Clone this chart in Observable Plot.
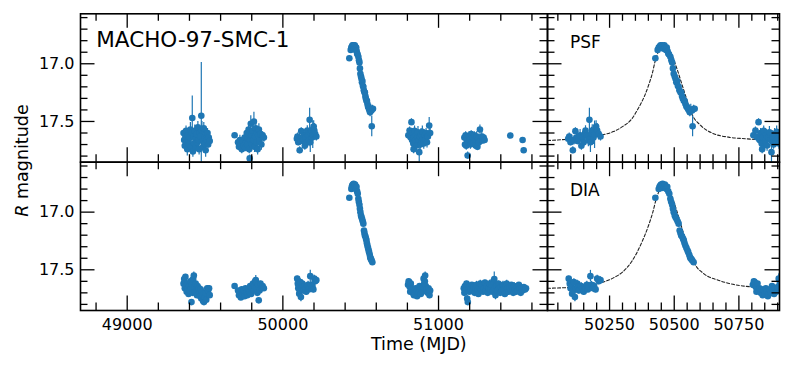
<!DOCTYPE html>
<html><head><meta charset="utf-8">
<script src="https://cdn.jsdelivr.net/npm/d3@7"></script>
<script src="https://cdn.jsdelivr.net/npm/@observablehq/plot@0.6"></script>
<style>
body{margin:0;background:#fff}
#chart{position:relative;width:793px;height:366px;overflow:hidden;background:#fff}
#chart svg{position:absolute;left:0;top:0}
</style></head><body><div id="chart"></div>
<script>
// ---------- data: [MJD, R magnitude, error] ----------
const psfObs = [
[49362,17.60,0.03],[49366,17.66,0.04],[49370,17.71,0.03],[49374,17.63,0.05],[49378,17.58,0.04],[49382,17.68,0.03],[49386,17.74,0.06],[49390,17.62,0.04],[49394,17.66,0.03],[49398,17.70,0.05],[49402,17.64,0.04],[49406,17.57,0.06],[49410,17.72,0.05],[49414,17.60,0.03],[49418,17.47,0.19],[49422,17.76,0.05],[49426,17.63,0.04],[49430,17.69,0.03],[49434,17.58,0.05],[49438,17.65,0.04],[49442,17.72,0.04],[49446,17.61,0.03],[49450,17.68,0.05],[49454,17.55,0.05],[49458,17.66,0.04],[49462,17.74,0.05],[49466,17.60,0.06],[49470,17.63,0.04],[49476,17.45,0.46],[49480,17.58,0.08],[49484,17.67,0.05],[49488,17.72,0.04],[49492,17.56,0.05],[49496,17.64,0.03],[49500,17.69,0.07],[49504,17.75,0.06],[49508,17.61,0.04],[49512,17.66,0.05],[49516,17.60,0.04],[49520,17.70,0.03],[49524,17.64,0.05],[49530,17.67,0.04],
[49690,17.62,0.02],[49712,17.68,0.03],[49718,17.72,0.03],[49724,17.66,0.04],[49730,17.70,0.03],[49736,17.74,0.04],[49742,17.67,0.03],[49748,17.71,0.05],[49754,17.64,0.04],[49758,17.73,0.03],[49764,17.68,0.05],[49768,17.60,0.04],[49772,17.70,0.04],[49776,17.65,0.06],[49780,17.57,0.05],[49784,17.74,0.04],[49787,17.82,0.03],[49790,17.66,0.05],[49794,17.52,0.07],[49798,17.62,0.05],[49802,17.70,0.04],[49806,17.58,0.06],[49810,17.66,0.05],[49814,17.50,0.08],[49818,17.72,0.05],[49822,17.63,0.04],[49826,17.56,0.06],[49830,17.68,0.05],[49834,17.60,0.04],[49838,17.74,0.05],[49842,17.62,0.04],[49846,17.57,0.05],[49850,17.67,0.06],[49856,17.61,0.04],[49862,17.70,0.05],[49870,17.62,0.03],[49878,17.64,0.04],
[50090,17.65,0.03],[50094,17.63,0.03],[50099,17.68,0.03],[50104,17.66,0.04],[50108,17.75,0.03],[50112,17.665,0.04],[50118,17.584,0.03],[50122,17.64,0.04],[50126,17.67,0.03],[50131,17.65,0.04],[50136,17.62,0.05],[50141,17.71,0.04],[50146,17.636,0.05],[50150,17.68,0.04],[50154,17.61,0.05],[50157,17.578,0.04],[50163,17.62,0.05],[50168,17.66,0.06],[50172,17.486,0.10],[50176,17.68,0.09],[50180,17.60,0.05],[50183,17.578,0.05],[50188,17.64,0.06],[50192,17.615,0.12],[50198,17.543,0.05],[50202,17.578,0.06],[50208,17.61,0.05],[50215,17.63,0.04],
[50427,16.952,0.02],[50436,16.88,0.02],[50440,16.86,0.02],[50444,16.85,0.02],[50447,16.84,0.02],[50450,16.86,0.02],[50453,16.84,0.02],[50456,16.85,0.02],[50459,16.87,0.02],[50462,16.84,0.02],[50465,16.86,0.02],[50468,16.88,0.02],[50471,16.86,0.02],[50474,16.89,0.02],[50477,16.91,0.02],[50480,16.92,0.02],[50485,16.94,0.02],[50489,16.97,0.02],[50492,16.99,0.02],[50495,17.04,0.02],[50498,17.087,0.02],[50502,17.11,0.02],[50505,17.13,0.02],[50508,17.16,0.02],[50511,17.15,0.02],[50514,17.19,0.02],[50517,17.20,0.02],[50520,17.23,0.02],[50524,17.246,0.02],[50527,17.25,0.02],[50530,17.28,0.02],[50533,17.30,0.02],[50537,17.32,0.02],[50540,17.32,0.02],[50543,17.347,0.02],[50547,17.37,0.03],[50550,17.376,0.03],[50553,17.39,0.03],[50556,17.40,0.04],[50560,17.42,0.04],[50564,17.40,0.05],[50569,17.405,0.03],[50571,17.542,0.09],[50575,17.39,0.03],[50579,17.39,0.02],
[50806,17.62,0.03],[50814,17.578,0.03],[50820,17.636,0.04],[50826,17.506,0.03],[50830,17.66,0.03],[50834,17.60,0.04],[50838,17.69,0.03],[50840,17.74,0.04],[50842,17.64,0.04],[50846,17.58,0.04],[50852,17.665,0.04],[50856,17.62,0.05],[50859,17.708,0.05],[50864,17.64,0.04],[50868,17.593,0.05],[50872,17.66,0.04],[50876,17.766,0.10],[50880,17.63,0.05],[50884,17.70,0.04],[50888,17.61,0.05],[50892,17.67,0.04],[50896,17.59,0.05],[50900,17.65,0.04],[50905,17.69,0.05],[50910,17.62,0.04],[50915,17.66,0.05],[50920,17.60,0.04],[50926,17.68,0.05],[50932,17.63,0.04],[50940,17.535,0.07],[50946,17.60,0.04],
[51166,17.64,0.03],[51170,17.70,0.03],[51174,17.62,0.03],[51178,17.71,0.04],[51182,17.66,0.03],[51187,17.795,0.03],[51192,17.68,0.03],[51196,17.63,0.04],[51200,17.66,0.03],[51205,17.70,0.04],[51210,17.61,0.03],[51215,17.67,0.04],[51220,17.64,0.03],[51225,17.69,0.04],[51230,17.62,0.03],[51235,17.66,0.04],[51240,17.71,0.03],[51245,17.63,0.04],[51250,17.72,0.03],[51255,17.65,0.04],[51260,17.68,0.03],[51266,17.57,0.04],[51272,17.66,0.03],[51278,17.63,0.04],[51284,17.665,0.03],[51290,17.64,0.03],[51296,17.66,0.03],
[51461,17.622,0.02],[51540,17.66,0.02],[51547,17.75,0.02]
];

const diaObs = [
[49362,17.62,0.02],[49366,17.58,0.02],[49370,17.66,0.03],[49374,17.56,0.02],[49378,17.64,0.02],[49382,17.69,0.03],[49386,17.62,0.02],[49390,17.66,0.02],[49394,17.71,0.03],[49398,17.64,0.02],[49402,17.68,0.02],[49406,17.60,0.03],[49410,17.66,0.02],[49413,17.78,0.02],[49416,17.63,0.03],[49420,17.70,0.02],[49424,17.58,0.03],[49428,17.55,0.03],[49432,17.65,0.02],[49436,17.69,0.03],[49440,17.62,0.02],[49444,17.67,0.02],[49448,17.72,0.03],[49452,17.64,0.02],[49456,17.68,0.03],[49460,17.66,0.02],[49464,17.70,0.03],[49468,17.73,0.02],[49472,17.67,0.03],[49476,17.75,0.02],[49480,17.69,0.03],[49484,17.72,0.02],[49488,17.77,0.03],[49493,17.78,0.02],[49498,17.74,0.03],[49503,17.70,0.02],[49508,17.76,0.03],[49514,17.66,0.02],[49520,17.68,0.03],[49526,17.66,0.02],[49530,17.72,0.03],
[49690,17.64,0.02],[49712,17.68,0.02],[49718,17.72,0.02],[49724,17.69,0.02],[49730,17.74,0.02],[49736,17.67,0.02],[49742,17.71,0.02],[49748,17.68,0.02],[49754,17.73,0.02],[49760,17.66,0.02],[49766,17.70,0.02],[49772,17.72,0.02],[49778,17.67,0.02],[49784,17.69,0.03],[49790,17.64,0.02],[49796,17.71,0.02],[49802,17.66,0.03],[49808,17.62,0.02],[49812,17.68,0.03],[49818,17.64,0.02],[49822,17.60,0.03],[49826,17.59,0.04],[49830,17.66,0.02],[49836,17.70,0.03],[49840,17.63,0.02],[49845,17.765,0.02],[49850,17.68,0.03],[49856,17.62,0.02],[49862,17.66,0.03],[49870,17.64,0.02],[49878,17.66,0.02],
[50092,17.577,0.02],[50096,17.62,0.03],[50099,17.66,0.03],[50102,17.64,0.02],[50105,17.707,0.03],[50109,17.68,0.03],[50112,17.607,0.03],[50116,17.737,0.04],[50120,17.66,0.03],[50125,17.62,0.03],[50128,17.65,0.03],[50131,17.679,0.03],[50136,17.67,0.03],[50140,17.64,0.03],[50145,17.66,0.03],[50150,17.69,0.03],[50154,17.65,0.03],[50157,17.664,0.03],[50162,17.63,0.03],[50166,17.67,0.03],[50170,17.65,0.03],[50176,17.555,0.05],[50180,17.63,0.03],[50186,17.66,0.03],[50190,17.64,0.03],[50196,17.67,0.03],[50202,17.577,0.03],[50208,17.60,0.03],[50215,17.59,0.03],
[50427,16.875,0.01],[50440,16.80,0.01],[50443,16.78,0.01],[50446,16.77,0.01],[50449,16.76,0.01],[50452,16.79,0.01],[50455,16.755,0.01],[50458,16.77,0.01],[50461,16.78,0.01],[50464,16.76,0.01],[50467,16.79,0.01],[50470,16.80,0.01],[50473,16.78,0.01],[50477,16.82,0.01],[50481,16.84,0.01],[50485,16.884,0.01],[50488,16.91,0.01],[50492,16.936,0.01],[50495,16.97,0.01],[50498,17.00,0.01],[50502,17.03,0.01],[50505,17.044,0.01],[50509,17.06,0.01],[50513,17.08,0.01],[50517,17.10,0.01],[50521,17.159,0.01],[50524,17.18,0.01],[50527,17.202,0.01],[50530,17.21,0.01],[50534,17.23,0.01],[50537,17.245,0.01],[50540,17.27,0.01],[50543,17.289,0.01],[50547,17.31,0.01],[50551,17.33,0.01],[50554,17.347,0.01],[50558,17.37,0.01],[50561,17.39,0.01],[50563,17.399,0.01],[50567,17.41,0.01],[50570,17.42,0.01],[50575,17.434,0.01],
[50804,17.63,0.02],[50808,17.60,0.02],[50811,17.607,0.02],[50815,17.65,0.02],[50818,17.69,0.02],[50822,17.62,0.02],[50826,17.679,0.02],[50830,17.66,0.02],[50834,17.70,0.02],[50838,17.67,0.02],[50842,17.72,0.02],[50846,17.68,0.02],[50850,17.71,0.02],[50854,17.66,0.02],[50858,17.69,0.02],[50862,17.73,0.02],[50865,17.707,0.02],[50870,17.67,0.02],[50874,17.70,0.02],[50878,17.64,0.02],[50882,17.68,0.03],[50886,17.71,0.02],[50890,17.66,0.02],[50895,17.69,0.02],[50900,17.65,0.02],[50904,17.577,0.02],[50908,17.62,0.03],[50912,17.60,0.02],[50914,17.549,0.03],[50918,17.64,0.02],[50924,17.67,0.03],[50930,17.70,0.04],[50936,17.66,0.02],[50942,17.72,0.03],[50946,17.68,0.02],
[51162,17.66,0.02],[51166,17.70,0.02],[51170,17.64,0.02],[51176,17.68,0.02],[51180,17.62,0.02],[51184,17.75,0.03],[51188,17.78,0.03],[51192,17.66,0.02],[51197,17.69,0.02],[51202,17.64,0.02],[51208,17.67,0.02],[51214,17.63,0.02],[51220,17.68,0.02],[51226,17.65,0.02],[51232,17.70,0.02],[51238,17.66,0.02],[51244,17.63,0.03],[51250,17.68,0.02],[51256,17.71,0.02],[51262,17.65,0.02],[51268,17.62,0.03],[51274,17.67,0.02],[51280,17.64,0.02],[51286,17.69,0.02],[51292,17.66,0.03],[51298,17.61,0.02],[51304,17.68,0.02],[51310,17.64,0.03],[51316,17.70,0.02],[51322,17.66,0.02],[51328,17.62,0.03],[51334,17.67,0.02],[51340,17.63,0.03],[51346,17.69,0.02],[51352,17.60,0.03],[51358,17.58,0.06],[51362,17.66,0.03],[51366,17.72,0.04],[51372,17.64,0.02],[51378,17.68,0.03],[51384,17.62,0.02],[51390,17.66,0.03],[51396,17.70,0.02],[51402,17.65,0.03],[51408,17.68,0.02],[51414,17.63,0.03],[51420,17.67,0.02],[51426,17.71,0.03],[51432,17.64,0.02],[51438,17.62,0.03],[51444,17.66,0.02],[51450,17.69,0.03],[51456,17.65,0.02],[51462,17.68,0.03],[51468,17.63,0.02],[51474,17.66,0.03],[51480,17.70,0.02],[51486,17.64,0.03],[51492,17.67,0.02],[51498,17.69,0.03],[51504,17.65,0.02],[51510,17.68,0.03],[51516,17.63,0.02],[51522,17.66,0.03],[51528,17.70,0.02],[51534,17.66,0.03],[51540,17.68,0.02],[51548,17.65,0.02],[51556,17.67,0.02],[51562,17.66,0.02]
];

// model curves
const modelPsfTime = [50010,50100,50200,50265,50300,50335,50365,50385,50401,50415,50427,50440,50455,50470,50490,50510,50530,50550,50569,50600,50646,50710,50775,50907];
const modelPsfMag  = [17.665,17.652,17.625,17.588,17.545,17.480,17.37,17.28,17.185,17.085,16.97,16.89,16.845,16.85,16.92,17.04,17.18,17.32,17.44,17.53,17.60,17.636,17.650,17.662];
const modelDiaTime = [50010,50100,50200,50265,50300,50335,50375,50400,50416,50430,50445,50458,50472,50490,50510,50530,50550,50578,50615,50670,50740,50800,50907];
const modelDiaMag  = [17.660,17.652,17.622,17.570,17.52,17.43,17.26,17.12,17.01,16.89,16.80,16.765,16.78,16.86,16.99,17.14,17.29,17.445,17.535,17.59,17.632,17.648,17.658];

// axes
const fullDomain = [48700, 51700];
const zoomDomain = [50010, 50907];
const magDomain = [16.567, 17.853];
const fullMajor = [49000, 50000, 51000];
const zoomMajor = [50250, 50500, 50750];
const magMajor = [17.0, 17.5];
const titleText = "MACHO-97-SMC-1";
const panelLabels = ["PSF", "DIA"];
const xLabelText = "Time (MJD)";
const yLabelText = "R magnitude";

// ---------- drawing ----------
const blue = "#1f77b4";
const W = 793, H = 366;
const L = 80, MID = 547, R = 779, T = 13.3, SPLIT = 161.7, B = 310;
const FONT = "DejaVu Sans, Liberation Sans, sans-serif";

function steps(a, b, s) { const o = []; for (let i = 0; a + i * s <= b + 1e-9; i++) o.push(+(a + i * s).toFixed(6)); return o; }
const notIn = (arr) => (v) => !arr.some(m => Math.abs(m - v) < 1e-6);
const fullMinor = steps(48800, 51600, 200).filter(notIn(fullMajor));
const zoomMinor = steps(50050, 50900, 50).filter(notIn(zoomMajor));
const magMinor = steps(16.6, 17.8, 0.1).filter(notIn(magMajor));

const toRows = arr => arr.map(([t, m, e]) => ({t, m, e}));
const psfRows = toRows(psfObs), diaRows = toRows(diaObs);
const psfModel = modelPsfTime.map((t, i) => ({t, m: modelPsfMag[i]}));
const diaModel = modelDiaTime.map((t, i) => ({t, m: modelDiaMag[i]}));

function panel({rows, model, xDomain, xMajor, xMinor, left, right, top, bottom, showX, showY, extra = []}) {
  const fw = right - left, fh = bottom - top;
  const tk = {stroke: "black", strokeWidth: 1.3};
  const MAJ = 14.5, MIN = 7.5;
  const marks = [];
  if (model) marks.push(Plot.line(model, {x: "t", y: "m", curve: "monotone-x", stroke: "#222", strokeWidth: 1.1, strokeDasharray: "3,2", clip: true}));
  marks.push(
    Plot.ruleX(rows, {x: "t", y1: d => d.m - d.e, y2: d => d.m + d.e, stroke: blue, strokeWidth: 1.2, clip: true}),
    Plot.dot(rows, {x: "t", y: "m", r: 3.3, fill: blue, clip: true}),
    Plot.tickX(xMajor, {x: d => d, insetTop: fh - MAJ, ...tk}),
    Plot.tickX(xMajor, {x: d => d, insetBottom: fh - MAJ, ...tk}),
    Plot.tickX(xMinor, {x: d => d, insetTop: fh - MIN, ...tk}),
    Plot.tickX(xMinor, {x: d => d, insetBottom: fh - MIN, ...tk}),
    Plot.tickY(magMajor, {y: d => d, insetRight: fw - MAJ, ...tk}),
    Plot.tickY(magMajor, {y: d => d, insetLeft: fw - MAJ, ...tk}),
    Plot.tickY(magMinor, {y: d => d, insetRight: fw - MIN, ...tk}),
    Plot.tickY(magMinor, {y: d => d, insetLeft: fw - MIN, ...tk}),
    Plot.frame({stroke: "black", strokeWidth: 1.6})
  );
  if (showX) marks.push(Plot.axisX(xMajor, {anchor: "bottom", tickSize: 0, tickPadding: 8.5, tickFormat: d => String(d), fontSize: 16, label: null}));
  if (showY) marks.push(Plot.axisY(magMajor, {anchor: "left", tickSize: 0, tickPadding: 6, tickFormat: d => d.toFixed(1), fontSize: 16, label: null}));
  marks.push(...extra);
  return Plot.plot({
    width: W, height: H,
    marginLeft: left, marginRight: W - right, marginTop: top, marginBottom: H - bottom,
    x: {domain: xDomain, axis: null},
    y: {domain: magDomain, reverse: true, axis: null},
    style: {fontFamily: FONT, fontSize: "16px", color: "black", background: "transparent", overflow: "visible"},
    marks
  });
}

const chart = document.getElementById("chart");

chart.append(panel({rows: psfRows, xDomain: fullDomain, xMajor: fullMajor, xMinor: fullMinor,
  left: L, right: MID, top: T, bottom: SPLIT, showX: false, showY: true,
  extra: [
    Plot.text([titleText], {frameAnchor: "top-left", dx: 15.8, dy: 18.4, lineAnchor: "top", textAnchor: "start", fontSize: 21.5, fill: "black"}),
    Plot.text([yLabelText], {frameAnchor: "left", dx: -64.5, dy: 160 - (T + SPLIT) / 2, rotate: -90, lineAnchor: "top", textAnchor: "middle", fontSize: 17.5, fill: "black"})
  ]}));

chart.append(panel({rows: psfRows, model: psfModel, xDomain: zoomDomain, xMajor: zoomMajor, xMinor: zoomMinor,
  left: MID, right: R, top: T, bottom: SPLIT, showX: false, showY: false,
  extra: [Plot.text([panelLabels[0]], {frameAnchor: "top-left", dx: 22.5, dy: 21.7, lineAnchor: "top", textAnchor: "start", fontSize: 17, fill: "black"})]}));

chart.append(panel({rows: diaRows, xDomain: fullDomain, xMajor: fullMajor, xMinor: fullMinor,
  left: L, right: MID, top: SPLIT, bottom: B, showX: true, showY: true,
  extra: [Plot.text([xLabelText], {frameAnchor: "bottom", dx: 418.3 - (L + MID) / 2, dy: 26.8, lineAnchor: "top", textAnchor: "middle", fontSize: 17.5, fill: "black"})]}));

chart.append(panel({rows: diaRows, model: diaModel, xDomain: zoomDomain, xMajor: zoomMajor, xMinor: zoomMinor,
  left: MID, right: R, top: SPLIT, bottom: B, showX: true, showY: false,
  extra: [Plot.text([panelLabels[1]], {frameAnchor: "top-left", dx: 22.5, dy: 21.6, lineAnchor: "top", textAnchor: "start", fontSize: 17, fill: "black"})]}));

// italic R in the y label
d3.select(chart).selectAll("text").each(function() {
  if (this.textContent === yLabelText) {
    const el = d3.select(this);
    el.text(null);
    el.append("tspan").attr("font-style", "italic").text("R");
    el.append("tspan").text(yLabelText.slice(1));
  }
});
</script></body></html>
